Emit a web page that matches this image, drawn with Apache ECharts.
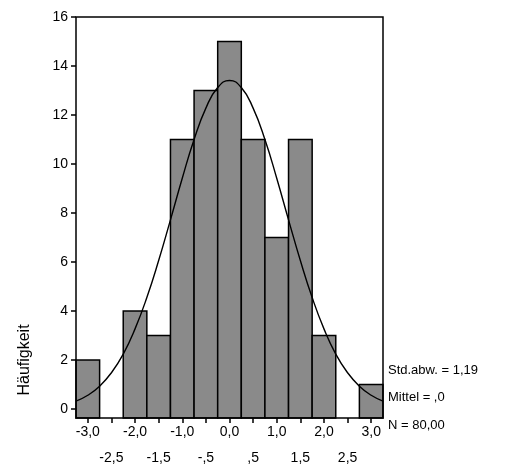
<!DOCTYPE html>
<html><head><meta charset="utf-8">
<script src="https://cdn.jsdelivr.net/npm/echarts@6/dist/echarts.min.js"></script>
<style>html,body{margin:0;padding:0;background:#fff}#c{width:513px;height:474px}</style>
</head><body><div id="c"></div>
<script>
// Histogramm-Daten (Klassenmitten, Häufigkeiten)
var binCenters = [-3.0, -2.5, -2.0, -1.5, -1.0, -0.5, 0.0, 0.5, 1.0, 1.5, 2.0, 2.5, 3.0];
var counts = [2, 0, 4, 3, 11, 13, 15, 11, 7, 11, 3, 0, 1];
var binWidth = 0.5;
// Normalverteilungskurve
var curveX = [-3.25, -3.0, -2.75, -2.5, -2.25, -2.0, -1.75, -1.5, -1.25, -1.0, -0.75, -0.5, -0.25, 0, 0.25, 0.5, 0.75, 1.0, 1.25, 1.5, 1.75, 2.0, 2.25, 2.5, 2.75, 3.0, 3.25];
var curveY = [0.32, 0.56, 0.93, 1.48, 2.24, 3.27, 4.55, 6.06, 7.72, 9.42, 11.0, 12.28, 13.12, 13.41, 13.12, 12.28, 11.0, 9.42, 7.72, 6.06, 4.55, 3.27, 2.24, 1.48, 0.93, 0.56, 0.32];
var labelsTop = [-3, -2, -1, 0, 1, 2, 3];
var labelsBottom = [-2.5, -1.5, -0.5, 0.5, 1.5, 2.5];
var statsText = ['Std.abw. = 1,19', 'Mittel = ,0', 'N = 80,00'];

function fmt(v) {
    var s = v.toFixed(1).replace('.', ',');
    if (Math.abs(v) < 1 && v !== 0) s = s.replace('0,', ',');
    return s;
}

var myChart = echarts.init(document.getElementById('c'));
var font = {fontFamily: 'Liberation Sans', fontSize: 14, color: '#000'};

var option = {
    animation: false,
    grid: {left: 76, right: 130, top: 17, bottom: 65},
    xAxis: [
        {type: 'value', min: -3.25, max: 3.25, offset: 9, position: 'bottom', z: 50,
         axisLine: {show: false, onZero: false}, splitLine: {show: false},
         axisTick: {show: true, customValues: binCenters, length: 5, lineStyle: {color: '#000', width: 1.5}},
         axisLabel: Object.assign({customValues: labelsTop, formatter: fmt, margin: 7}, font)},
        {type: 'value', min: -3.25, max: 3.25, offset: 35, position: 'bottom',
         axisLine: {show: false, onZero: false}, splitLine: {show: false}, axisTick: {show: false},
         axisLabel: Object.assign({customValues: labelsBottom, formatter: fmt, margin: 7}, font)}
    ],
    yAxis: {type: 'value', min: 0, max: 16, interval: 2, z: 50,
        axisLine: {show: false, onZero: false}, splitLine: {show: false},
        axisTick: {show: true, length: 5, lineStyle: {color: '#000', width: 1.5}},
        axisLabel: Object.assign({margin: 8}, font)},
    graphic: [
        {type: 'rect', shape: {x: 76, y: 17, width: 307, height: 401}, z: 100,
         style: {fill: null, stroke: '#000', lineWidth: 1.5}},
        {type: 'text', x: 25, y: 360, rotation: Math.PI / 2, z: 100,
         style: {text: 'Häufigkeit', font: '16px Liberation Sans', fill: '#000', textAlign: 'center', textVerticalAlign: 'middle'}},
        {type: 'text', left: 388, top: 364, style: {text: statsText[0], font: '13px Liberation Sans', fill: '#000'}},
        {type: 'text', left: 388, top: 391, style: {text: statsText[1], font: '13px Liberation Sans', fill: '#000'}},
        {type: 'text', left: 388, top: 419, style: {text: statsText[2], font: '13px Liberation Sans', fill: '#000'}}
    ],
    series: [
        {type: 'custom', xAxisIndex: 0,
         data: binCenters.map(function (x, i) { return [x, counts[i]]; }),
         renderItem: function (params, api) {
             if (api.value(1) <= 0) return;
             var p0 = api.coord([api.value(0) - binWidth / 2, api.value(1)]);
             var p1 = api.coord([api.value(0) + binWidth / 2, 0]);
             return {type: 'rect', shape: {x: p0[0], y: p0[1], width: p1[0] - p0[0], height: p1[1] - p0[1] + 9},
                     style: {fill: '#8a8a8a', stroke: '#000', lineWidth: 1.5}};
         }},
        {type: 'line', xAxisIndex: 0, smooth: true, showSymbol: false, z: 5,
         data: curveX.map(function (x, i) { return [x, curveY[i]]; }),
         lineStyle: {color: '#000', width: 1.4}}
    ]
};
myChart.setOption(option);
</script></body></html>
